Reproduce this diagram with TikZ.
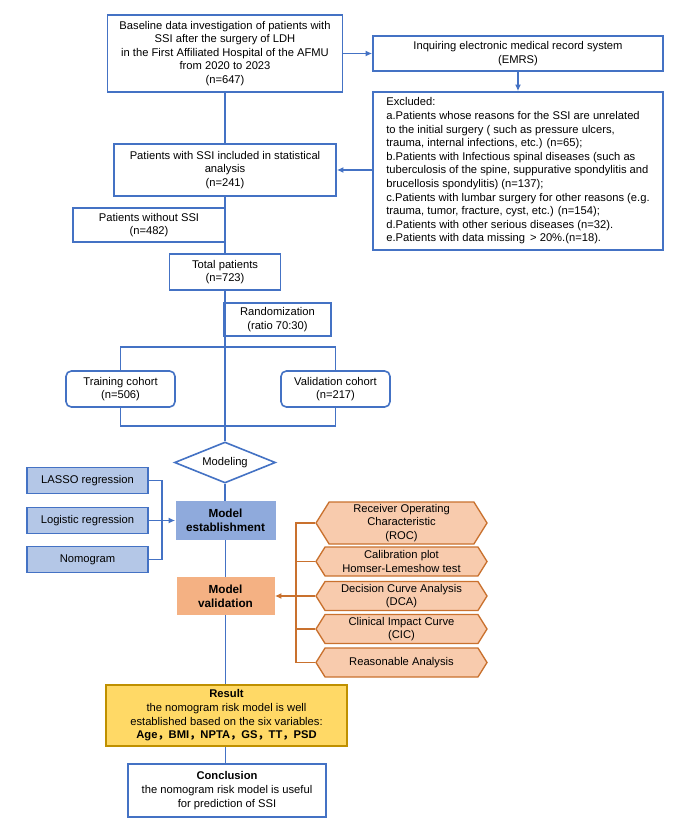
\documentclass[tikz,border=0pt]{standalone}
\usepackage{fontspec}
\setmainfont{Liberation Sans}
\newfontfamily\cjkfont{Noto Sans CJK SC}
\usetikzlibrary{arrows.meta,shapes.geometric,shapes.symbols}

\definecolor{lineblue}{HTML}{4472C4}
\definecolor{lightblue}{HTML}{B4C7E7}
\definecolor{midblue}{HTML}{8FAADC}
\definecolor{valorange}{HTML}{F4B183}
\definecolor{hexfill}{HTML}{F8CBAD}
\definecolor{hexline}{HTML}{C9712E}
\definecolor{resfill}{HTML}{FFD966}
\definecolor{resline}{HTML}{BF9000}

\begin{document}
\begin{tikzpicture}
  [x=0.75pt, y=-0.75pt, font=\fontsize{8.4}{10.2}\selectfont,
   every node/.style = {align=center, inner sep=2pt},
   sz/.style 2 args = {minimum width=#1*0.75pt, minimum height=#2*0.75pt},
   box/.style = {draw=lineblue, line width=1.2pt, fill=white},
   rbox/.style = {box, rounded corners=4pt},
   method/.style = {draw=lineblue, line width=1.2pt, fill=lightblue, sz={121}{26}},
   hexa/.style = {shape=signal, signal to=west and east, signal pointer angle=116,
                  draw=hexline, line width=1pt, fill=hexfill, inner ysep=0pt, sz={171}{29}},
   conn/.style = {draw=lineblue, line width=1.1pt},
   arr/.style = {conn, -{Latex[length=5pt,width=4.5pt]}},
   oconn/.style = {draw=hexline, line width=1.1pt},
   oarr/.style = {oconn, -{Latex[length=5pt,width=4.5pt]}}]

  \fill[white] (0,0) rectangle (685,834);
  \useasboundingbox (0,0) rectangle (685,834);

  % top part
  \node[box, sz={235}{77}] (base) at (225,53.5) {Baseline data investigation of patients with\\SSI after the surgery of LDH\\in the First Affiliated Hospital of the AFMU\\from 2020 to 2023\\(n=647)};
  \node[box, sz={290}{35}] (emrs) at (518,53.5) {Inquiring electronic medical record system\\(EMRS)};
  \node[box, sz={290}{158}, align=left] (excl) at (518,171) {Excluded:\\
    a.Patients whose reasons for the SSI are unrelated\\
    to the initial surgery ( such as pressure ulcers,\\
    trauma, internal infections, etc.) (n=65);\\
    b.Patients with Infectious spinal diseases (such as\\
    tuberculosis of the spine, suppurative spondylitis and\\
    brucellosis spondylitis) (n=137);\\
    c.Patients with lumbar surgery for other reasons (e.g.\\
    trauma, tumor, fracture, cyst, etc.) (n=154);\\
    d.Patients with other serious diseases (n=32).\\
    e.Patients with data missing \,> 20\%.(n=18).};
  \node[box, sz={222}{52}] (pssi) at (225,170) {Patients with SSI included in statistical\\analysis\\(n=241)};
  \node[box, sz={152}{34}] (pwo) at (149,225) {Patients without SSI\\(n=482)};
  \node[box, sz={111}{36}] (total) at (225,272) {Total patients\\(n=723)};
  \node[box, sz={107}{33}] (rand) at (277.5,319.5) {Randomization\\(ratio 70:30)};
  \node[rbox, sz={109}{36}] (train) at (120.5,389) {Training cohort\\(n=506)};
  \node[rbox, sz={109}{36}] (vcoh) at (335.5,389) {Validation cohort\\(n=217)};
  \coordinate (split) at (225,347);
  \coordinate (join) at (225,426);

  % modeling
  \node[shape=diamond, draw=lineblue, line width=1.2pt, fill=white, aspect=2.46,
        inner sep=0pt, sz={101}{41}] (model) at (225,462.5) {Modeling};
  \node[method] (lasso) at (87.5,480.5) {LASSO regression};
  \node[method] (logit) at (87.5,520.5) {Logistic regression};
  \node[method] (nomo) at (87.5,559.5) {Nomogram};
  \coordinate (lbr) at (162,520.5);
  \node[fill=midblue, sz={100}{39}, font=\fontsize{8.8}{10.5}\selectfont\bfseries] (estab) at (225.5,520.5) {Model\\establishment};
  \node[fill=valorange, sz={98}{38}, font=\fontsize{8.8}{10.5}\selectfont\bfseries] (validm) at (225.5,596) {Model\\validation};

  % validation methods
  \node[hexa, sz={171}{42}] (roc) at (401.5,523) {Receiver Operating\\Characteristic\\(ROC)};
  \node[hexa] (calib) at (401.5,561.5) {Calibration plot\\Homser-Lemeshow test};
  \node[hexa] (dca) at (401.5,596) {Decision Curve Analysis\\(DCA)};
  \node[hexa] (cic) at (401.5,629) {Clinical Impact Curve\\(CIC)};
  \node[hexa] (reas) at (401.5,662.5) {Reasonable Analysis};
  \coordinate (obr) at (296,596);

  % results
  \node[draw=resline, line width=1.2pt, fill=resfill, sz={241}{61}] (result) at (226.5,715.5) {\textbf{Result}\\the nomogram risk model is well\\established based on the six variables:\\\textbf{Age{\cjkfont ，}BMI{\cjkfont ，}NPTA{\cjkfont ，}GS{\cjkfont ，}TT{\cjkfont ，}PSD}};
  \node[box, sz={198}{53}] (concl) at (227,790.5) {\textbf{Conclusion}\\the nomogram risk model is useful\\for prediction of SSI};

  % connectors
  \draw[arr] (base) -- (emrs);
  \draw[arr] (emrs) -- (excl);
  \draw[arr] (excl.west |- pssi.east) -- (pssi.east);
  \draw[conn] (base) -- (pssi);
  \draw[conn] (pssi) -- (total);
  \draw[conn] (total) -- (model);
  \draw[conn] (train.north) |- (split) -| (vcoh.north);
  \draw[conn] (train.south) |- (join) -| (vcoh.south);
  \draw[conn] (model.south) -- (model.south |- estab.north);
  \draw[conn] (lasso.east) -| (lbr) |- (nomo.east);
  \draw[arr] (logit.east) -- (estab.west);
  \draw[conn] (estab) -- (validm);
  \draw[conn] (validm.south) -- (validm.south |- result.north);
  \draw[conn] (result.south -| validm) -- (concl.north -| validm);
  \draw[oconn] (roc.west) -| (obr) |- (reas.west);
  \foreach \h in {calib,cic}
    \draw[oconn] (\h.west) -- (\h.west -| obr);
  \draw[oarr] (dca.west) -- (validm.east);
\end{tikzpicture}
\end{document}
